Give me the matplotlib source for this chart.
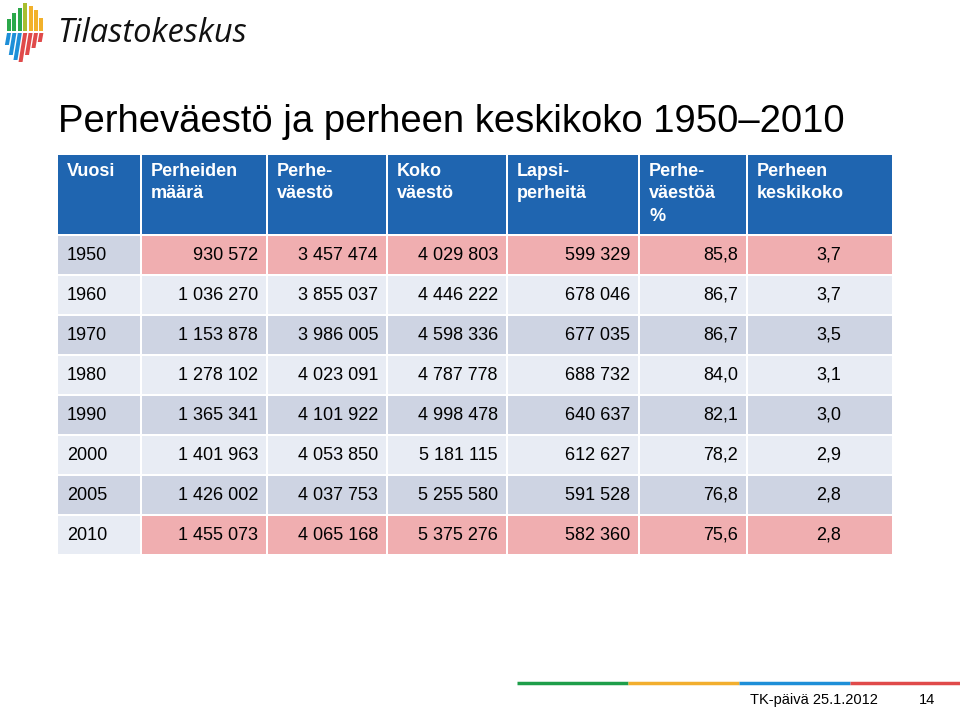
import matplotlib
matplotlib.use("Agg")
import matplotlib.pyplot as plt
from matplotlib.patches import Rectangle, Polygon

plt.rcParams['font.family'] = ['Liberation Sans', 'DejaVu Sans']

# table data
headers = ["Vuosi", "Perheiden\nmäärä", "Perhe-\nväestö", "Koko\nväestö",
           "Lapsi-\nperheitä", "Perhe-\nväestöä\n%", "Perheen\nkeskikoko"]
years = ["1950", "1960", "1970", "1980", "1990", "2000", "2005", "2010"]
perheiden_maara = ["930 572", "1 036 270", "1 153 878", "1 278 102",
                   "1 365 341", "1 401 963", "1 426 002", "1 455 073"]
perheväestö = ["3 457 474", "3 855 037", "3 986 005", "4 023 091",
               "4 101 922", "4 053 850", "4 037 753", "4 065 168"]
koko_vaesto = ["4 029 803", "4 446 222", "4 598 336", "4 787 778",
               "4 998 478", "5 181 115", "5 255 580", "5 375 276"]
lapsiperheita = ["599 329", "678 046", "677 035", "688 732",
                 "640 637", "612 627", "591 528", "582 360"]
osuus = ["85,8", "86,7", "86,7", "84,0", "82,1", "78,2", "76,8", "75,6"]
keskikoko = ["3,7", "3,7", "3,5", "3,1", "3,0", "2,9", "2,8", "2,8"]
highlight = ["1950", "2010"]

columns = [years, perheiden_maara, perheväestö, koko_vaesto,
           lapsiperheita, osuus, keskikoko]

BLUE = "#1F65B0"
PINK = "#F0AEB0"
DARK = "#CED4E3"
LIGHT = "#E8ECF4"

fig = plt.figure(figsize=(9.6, 7.08), dpi=100)
ax = fig.add_axes([0, 0, 1, 1])
ax.set_xlim(0, 960)
ax.set_ylim(708, 0)
ax.axis('off')

# logo
up_cols = ["#2BA84A", "#2BA84A", "#2BA84A", "#A8BE2E", "#F2B12B", "#F2B12B", "#F2B12B"]
low_cols = ["#1E8FD8", "#1E8FD8", "#1E8FD8", "#E04A4A", "#E04A4A", "#E04A4A", "#E04A4A"]
tops = [19, 13, 8, 3, 6, 10, 18]
bots = [45, 55, 60, 62, 55, 48, 42]
mid = 31
sk = 0.15
for i in range(7):
    x0 = 7 + i * 5.4
    ax.add_patch(Polygon([(x0, tops[i]), (x0 + 4, tops[i]), (x0 + 4, mid), (x0, mid)],
                         color=up_cols[i], lw=0))
    b = bots[i]
    ax.add_patch(Polygon([(x0, mid + 2), (x0 + 4, mid + 2),
                          (x0 + 4 - (b - mid) * sk, b), (x0 - (b - mid) * sk, b)],
                         color=low_cols[i], lw=0))
ax.text(57, 33, "Tilastokeskus", fontsize=23.5, style='italic',
        family=['Open Sans', 'DejaVu Sans'], va='center', ha='left', color="#111111")

# title
ax.text(58, 122, "Perheväestö ja perheen keskikoko 1950\u20132010",
        fontsize=27.5, va='center', ha='left', color="black")

# table geometry
col_edges = [58, 142, 268, 388, 508, 640, 748, 894]
head_top, head_bot = 155, 234
row_h = 40
gap = 2

for j in range(7):
    x0, x1 = col_edges[j], col_edges[j + 1]
    ax.add_patch(Rectangle((x0, head_top), x1 - x0 - gap, head_bot - head_top,
                           color=BLUE, lw=0))
    ax.text(x0 + 9, head_top + 8, headers[j], color="white", fontsize=13,
            fontweight='bold', va='top', ha='left', linespacing=1.42)

for i, yr in enumerate(years):
    y0 = head_bot + gap + i * row_h
    dark = (i % 2 == 0)
    for j in range(7):
        x0, x1 = col_edges[j], col_edges[j + 1]
        if j == 0:
            fc = DARK if dark else LIGHT
        elif yr in highlight:
            fc = PINK
        else:
            fc = DARK if dark else LIGHT
        ax.add_patch(Rectangle((x0, y0), x1 - x0 - gap, row_h - gap,
                               color=fc, lw=0))
        val = columns[j][i]
        yc = y0 + (row_h - gap) / 2
        if j == 0:
            ax.text(x0 + 9, yc, val, fontsize=13, va='center', ha='left')
        elif j == 6:
            ax.text(841, yc, val, fontsize=13, va='center', ha='right')
        else:
            ax.text(x1 - gap - 8, yc, val, fontsize=13, va='center', ha='right')

# footer line
seg_cols = ["#1E9E4A", "#F2AE2E", "#1E8FD8", "#E04A4A"]
for k, c in enumerate(seg_cols):
    ax.plot([517 + k * 111, 517 + (k + 1) * 111], [683, 683], color=c,
            lw=2.5, solid_capstyle='butt')
ax.text(750, 700, "TK-päivä 25.1.2012", fontsize=10.5, va='center', ha='left')
ax.text(935, 700, "14", fontsize=10.5, va='center', ha='right')

fig.savefig("out.png", dpi=100)
